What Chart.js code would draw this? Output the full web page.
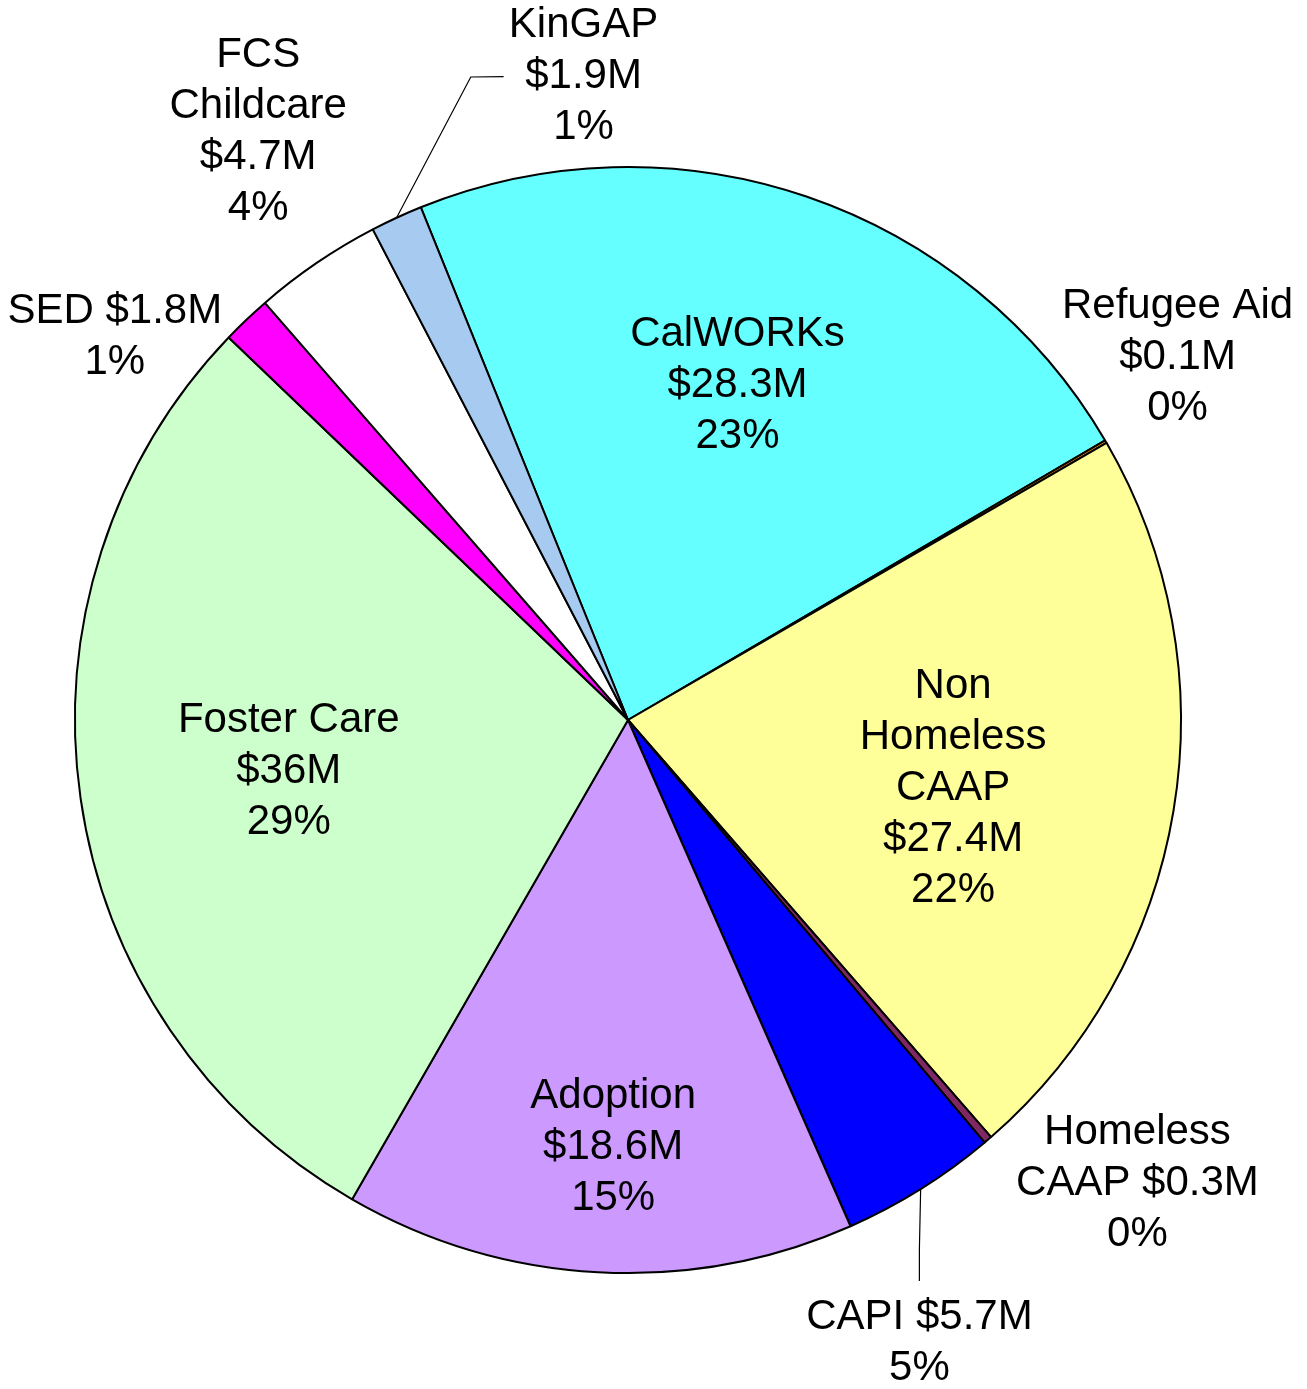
<!DOCTYPE html>
<html>
<head>
<meta charset="utf-8">
<title>Programas - distribuicao</title>
<script src="https://cdn.jsdelivr.net/npm/chart.js@4.4.1/dist/chart.umd.min.js"></script>
<style>
  html, body { margin: 0; padding: 0; background: #fff; }
  #wrap { width: 1307px; height: 1389px; }
  canvas { display: block; }
</style>
</head>
<body>
<div id="wrap"><canvas id="pie" width="1307" height="1389"></canvas></div>
<script>
/* global Chart */
// Dados (ordem horaria a partir do topo)
const CATEGORIAS = ['CalWORKs', 'Refugee Aid', 'Non Homeless CAAP', 'Homeless CAAP', 'CAPI',
  'Adoption', 'Foster Care', 'SED', 'FCS Childcare', 'KinGAP'];
const VALORES = [28.3, 0.1, 27.4, 0.3, 5.7, 18.6, 36, 1.8, 4.7, 1.9];   // milhoes
const PERCENTUAIS = ['23%', '0%', '22%', '0%', '5%', '15%', '29%', '1%', '4%', '1%'];

const CORES = ['#66FFFF', '#FF9900', '#FFFF99', '#802864', '#0000FF',
  '#CC99FF', '#CCFFCC', '#FF00FF', '#FFFFFF', '#A6CAF0'];

// Como quebrar cada rotulo: stack = nome / valor / %, inline = "nome valor" / %,
// words = cada palavra do nome / valor / %, split1 = 1a palavra / resto + valor / %
const QUEBRA = ['stack', 'stack', 'words', 'split1', 'inline', 'stack', 'stack', 'inline', 'words', 'stack'];

// Posicao do rotulo: [desvio angular em graus a partir do meio da fatia, fator do raio]
const POS_ROTULO = [[-0.8, 0.64], [-3.37, 1.193], [2.1, 0.60], [-7.2, 1.2435], [6.8, 1.24],
  [-1.1, 0.77], [-0.2, 0.62], [-9.5, 1.16], [2.2, 1.26], [20.8, 1.17]];

// Linhas de chamada (mesmo sistema polar)
const CHAMADAS = {
  4: [[0, 1.0], [3.1, 1.092], [4.5, 1.143]],
  9: [[0, 1.0], [11.0, 1.197], [13.8, 1.185]]
};

const FONTE = '42px "Liberation Sans", Arial, sans-serif';
const ALTURA_LINHA = 51;

function fmtValor(v) {
  return '$' + (Number.isInteger(v) ? v : v.toFixed(1)) + 'M';
}

function linhasRotulo(i) {
  const nome = CATEGORIAS[i], val = fmtValor(VALORES[i]), pct = PERCENTUAIS[i];
  switch (QUEBRA[i]) {
    case 'inline': return [nome + ' ' + val, pct];
    case 'words': return [...nome.split(' '), val, pct];
    case 'split1': {
      const p = nome.split(' ');
      return [p[0], p.slice(1).join(' ') + ' ' + val, pct];
    }
    default: return [nome, val, pct];
  }
}

function polar(arc, dGraus, fator) {
  const a = (arc.startAngle + arc.endAngle) / 2 + dGraus * Math.PI / 180;
  const r = arc.outerRadius * fator;
  return [arc.x + Math.cos(a) * r, arc.y + Math.sin(a) * r];
}

const rotulosPlugin = {
  id: 'rotulos',
  afterDatasetsDraw(chart) {
    const ctx = chart.ctx;
    const arcs = chart.getDatasetMeta(0).data;
    ctx.save();
    // linhas de chamada
    ctx.strokeStyle = '#000';
    ctx.lineWidth = 1.2;
    Object.entries(CHAMADAS).forEach(([idx, pts]) => {
      const arc = arcs[idx].getProps(['x', 'y', 'startAngle', 'endAngle', 'outerRadius'], true);
      ctx.beginPath();
      pts.forEach(([d, f], k) => {
        const [px, py] = polar(arc, d, f);
        if (k === 0) ctx.moveTo(px, py); else ctx.lineTo(px, py);
      });
      ctx.stroke();
    });
    // textos
    ctx.font = FONTE;
    ctx.fillStyle = '#000';
    ctx.textAlign = 'center';
    ctx.textBaseline = 'middle';
    arcs.forEach((el, i) => {
      const arc = el.getProps(['x', 'y', 'startAngle', 'endAngle', 'outerRadius'], true);
      const [cx, cy] = polar(arc, POS_ROTULO[i][0], POS_ROTULO[i][1]);
      const linhas = linhasRotulo(i);
      const y0 = cy - (linhas.length - 1) * ALTURA_LINHA / 2;
      linhas.forEach((t, k) => ctx.fillText(t, cx, y0 + k * ALTURA_LINHA + 2));
    });
    ctx.restore();
  }
};

new Chart(document.getElementById('pie'), {
  type: 'pie',
  data: {
    labels: CATEGORIAS,
    datasets: [{
      data: VALORES,
      backgroundColor: CORES,
      borderColor: '#000',
      borderWidth: 2
    }]
  },
  options: {
    responsive: false,
    animation: false,
    devicePixelRatio: 1,
    rotation: -22,
    radius: 553,
    layout: { padding: { left: 75, right: 126, top: 167, bottom: 116 } },
    plugins: {
      legend: { display: false },
      tooltip: { enabled: false },
      title: { display: false }
    }
  },
  plugins: [rotulosPlugin]
});
</script>
</body>
</html>
